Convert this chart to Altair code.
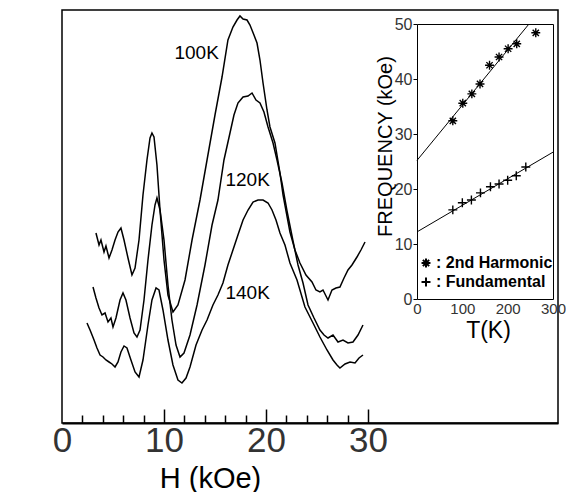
import altair as alt
import pandas as pd

# ---------------- main panel data (H in kOe, signal in arbitrary units) ----------------
h_100 = [3.33, 3.63, 3.82, 4.12, 4.31, 4.61, 4.90, 5.20, 5.49, 5.78, 6.08, 6.47, 6.86, 7.16, 7.55, 7.94,
         8.33, 8.63, 8.82, 9.02, 9.31, 9.61, 10.0, 10.39, 10.88, 11.37, 12.06, 12.75, 13.53, 14.22,
         15.0, 15.69, 16.27, 16.76, 17.16, 17.45, 17.75, 18.14, 18.43, 18.82, 19.12, 19.41, 19.71,
         20.1, 20.39, 20.88, 21.37, 21.67, 22.35, 22.84, 23.33, 23.92, 24.51, 24.90, 25.29, 25.59,
         26.08, 26.47, 26.86, 27.25, 27.65, 28.04, 28.43, 28.92, 29.31, 29.71]
v_100 = [190, 178, 183, 171, 177, 165, 173, 183, 191, 195, 183, 165, 148, 155, 183, 228,
         263, 285, 290, 286, 258, 213, 163, 128, 111, 118, 143, 183, 223, 263,
         308, 346, 383, 396, 403, 407, 404, 403, 398, 388, 380, 363, 340,
         313, 296, 280, 250, 228, 191, 173, 160, 148, 141, 133, 131, 133,
         123, 133, 135, 136, 145, 153, 158, 166, 173, 181]

h_120 = [3.04, 3.33, 3.63, 3.92, 4.22, 4.51, 4.80, 5.0, 5.29, 5.69, 5.98, 6.27, 6.67, 7.06, 7.35, 7.65,
         8.04, 8.43, 8.82, 9.12, 9.31, 9.61, 10.0, 10.39, 10.78, 11.18, 11.57, 11.96, 12.55, 13.24,
         14.02, 14.71, 15.29, 15.88, 16.47, 16.86, 17.25, 17.75, 18.24, 18.63, 19.02, 19.41, 19.80,
         20.2, 20.69, 21.08, 21.57, 22.06, 22.65, 23.14, 23.63, 24.12, 24.71, 25.29, 25.69, 26.08,
         26.57, 27.06, 27.55, 28.04, 28.53, 29.02, 29.51]
v_120 = [136, 125, 115, 108, 110, 101, 105, 96, 105, 123, 130, 123, 105, 90, 86, 93,
         123, 163, 198, 218, 225, 213, 183, 138, 103, 78, 66, 70, 88, 118,
         158, 198, 223, 263, 290, 308, 320, 326, 327, 330, 323, 320, 311,
         296, 280, 263, 240, 212, 182, 158, 140, 118, 105, 93, 88, 85,
         88, 81, 83, 80, 81, 88, 98]

h_140 = [2.45, 2.75, 3.14, 3.43, 3.73, 4.02, 4.31, 4.61, 4.90, 5.20, 5.49, 5.78, 6.08, 6.37, 6.76, 7.16,
         7.55, 7.94, 8.43, 8.82, 9.22, 9.51, 9.90, 10.39, 10.88, 11.37, 11.76, 12.16, 12.55, 13.14,
         13.73, 14.22, 14.80, 15.29, 15.78, 16.27, 16.76, 17.25, 17.75, 18.24, 18.73, 19.22, 19.71,
         20.2, 20.59, 20.98, 21.37, 21.86, 22.35, 23.04, 23.82, 24.61, 25.29, 25.98, 26.57, 26.96,
         27.25, 27.75, 28.24, 28.73, 29.12, 29.51]
v_140 = [100, 93, 83, 75, 68, 66, 63, 61, 59, 56, 61, 71, 77, 75, 63, 51,
         46, 63, 98, 123, 135, 133, 113, 83, 58, 43, 40, 45, 56, 78,
         93, 103, 118, 128, 140, 158, 173, 188, 203, 213, 221, 223, 223,
         220, 213, 203, 190, 178, 160, 143, 116, 100, 86, 73, 63, 58,
         55, 59, 61, 60, 65, 68]

curve_names = ["100K", "120K", "140K"]
label_h = [13.2, 18.2, 18.2]
label_v = [370, 243, 130]

major_ticks = [0, 10, 20, 30]
minor_ticks = [2, 4, 6, 8, 10, 12, 14, 16, 18, 20, 22, 24, 26, 28, 30]

# ---------------- inset data (T in K, frequency in kOe) ----------------
series_names = ["2nd Harmonic", "Fundamental"]
t_harm = [79, 101, 121, 139, 160, 181, 201, 220, 262]
f_harm = [32.4, 35.6, 37.3, 39.1, 42.5, 44.0, 45.5, 46.4, 48.4]
t_fund = [79, 100, 120, 140, 162, 181, 200, 219, 240]
f_fund = [16.2, 17.5, 18.0, 19.3, 20.4, 20.9, 21.6, 22.4, 24.0]
fit_t_harm = [0, 247]
fit_f_harm = [25.2, 50.0]
fit_t_fund = [0, 300]
fit_f_fund = [12.2, 26.7]
inset_x_ticks = [0, 100, 200, 300]
inset_y_ticks = [0, 10, 20, 30, 40, 50]

# ---------------- tables ----------------
curve_df = pd.concat([
    pd.DataFrame({"H": h_100, "v": v_100, "T": "100K"}),
    pd.DataFrame({"H": h_120, "v": v_120, "T": "120K"}),
    pd.DataFrame({"H": h_140, "v": v_140, "T": "140K"}),
], ignore_index=True)
label_df = pd.DataFrame({"H": label_h, "v": label_v, "t": curve_names})
pts_df = pd.concat([
    pd.DataFrame({"T": t_harm, "F": f_harm, "series": series_names[0]}),
    pd.DataFrame({"T": t_fund, "F": f_fund, "series": series_names[1]}),
], ignore_index=True)
fit_df = pd.concat([
    pd.DataFrame({"T": fit_t_harm, "F": fit_f_harm, "series": series_names[0]}),
    pd.DataFrame({"T": fit_t_fund, "F": fit_f_fund, "series": series_names[1]}),
], ignore_index=True)

FONT = "Liberation Sans"
W, H = 496, 413

xs = alt.Scale(domain=[0, 48.63], nice=False, zero=False)
ys = alt.Scale(domain=[0, 413], nice=False, zero=False)

curves = alt.Chart(curve_df).mark_line(color="black", strokeWidth=1.5).encode(
    x=alt.X("H:Q", scale=xs, axis=alt.Axis(
        orient="bottom", values=major_ticks, ticks=False, domain=True, domainWidth=2,
        labelFontSize=35, labelPadding=0, labelFont=FONT, labelFlush=False,
        labelColor="#333333",
        title="H (kOe)", titleX=148, titleY=55, titleFontSize=29, titleFont=FONT,
        titleBaseline="middle", titleAlign="center")),
    y=alt.Y("v:Q", scale=ys, axis=alt.Axis(
        orient="left", labels=False, ticks=False, domain=False,
        title="d²R/dH² (arb. units)", titleX=-34, titleY=145, titleAngle=270,
        titleFontSize=21, titleFont=FONT, titleBaseline="middle", titleAlign="center")),
    detail="T:N",
)

labels = alt.Chart(label_df).mark_text(font=FONT, fontSize=19, color="black").encode(
    x=alt.X("H:Q", scale=xs, axis=alt.Axis(
        orient="top", offset=-413, values=minor_ticks, labels=False, domain=False,
        title=None, tickWidth=1.5,
        tickSize={"condition": {"test": "datum.value % 10 === 0", "value": 14}, "value": 8})),
    y=alt.Y("v:Q", scale=ys, axis=None),
    text="t:N",
)

main = alt.layer(curves, labels).resolve_axis(x="independent")

ixs = alt.Scale(domain=[0, 300], range=[355, 491], nice=False, zero=False)
iys = alt.Scale(domain=[0, 50], range=[289, 14], nice=False, zero=False)

star = "M-1,0L1,0M0,-1L0,1M-0.7,-0.7L0.7,0.7M-0.7,0.7L0.7,-0.7"
plus = "M-1,0L1,0M0,-1L0,1"

fits = alt.Chart(fit_df).mark_line(color="black", strokeWidth=1).encode(
    x=alt.X("T:Q", scale=ixs, axis=alt.Axis(
        orient="top", offset=-14, labels=False, ticks=False, title=None)),
    y=alt.Y("F:Q", scale=iys, axis=alt.Axis(
        orient="right", offset=-5, labels=False, ticks=False, title=None)),
    detail="series:N",
)

points = alt.Chart(pts_df).mark_point(filled=False, color="black", size=80, strokeWidth=1.4, opacity=1).encode(
    x=alt.X("T:Q", scale=ixs, axis=alt.Axis(
        orient="bottom", offset=-124, values=inset_x_ticks, ticks=False,
        labelFontSize=15, labelFont=FONT, labelPadding=2, labelFlush=False,
        labelOverlap=False, labelColor="#333333",
        title="T(K)", titleX=426, titleY=31, titleFontSize=23, titleFont=FONT,
        titleBaseline="middle", titleAlign="center")),
    y=alt.Y("F:Q", scale=iys, axis=alt.Axis(
        orient="left", offset=-355, values=inset_y_ticks, tickSize=4,
        labelFontSize=16, labelFont=FONT, labelPadding=1, labelFlush=False,
        labelColor="#333333",
        title="FREQUENCY (kOe)", titleX=-32, titleY=136, titleAngle=270,
        titleFontSize=20, titleFont=FONT, titleBaseline="middle", titleAlign="center")),
    shape=alt.Shape("series:N", scale=alt.Scale(domain=series_names, range=[star, plus]),
                    legend=alt.Legend(orient="none", legendX=356, legendY=245, title=None,
                                      labelFont=FONT, labelFontSize=16, labelFontWeight="bold",
                                      labelColor="black", labelExpr="': ' + datum.label",
                                      symbolStrokeColor="black", symbolStrokeWidth=2,
                                      symbolSize=80, rowPadding=1, padding=0, labelOffset=2)),
)

inset = alt.layer(fits, points).resolve_axis(x="independent", y="independent")

chart = alt.layer(main, inset).resolve_scale(
    x="independent", y="independent"
).properties(
    width=W, height=H, autosize="none",
    padding={"left": 54, "top": 2, "right": 8, "bottom": 69},
).configure_view(
    stroke="black", strokeWidth=1.5
).configure_axis(
    grid=False, domainColor="black", tickColor="black", labelColor="black",
    titleColor="black", titleFontWeight="normal"
)

chart.save("out.html", embed_options={"renderer": "svg", "actions": False})
